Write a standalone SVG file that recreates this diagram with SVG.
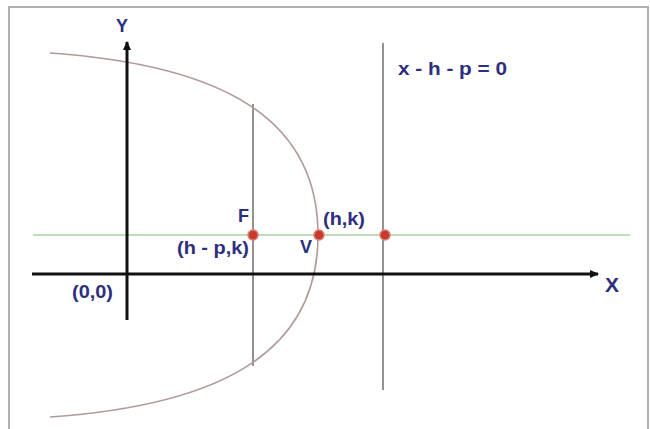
<svg xmlns="http://www.w3.org/2000/svg" width="650" height="429" viewBox="0 0 650 429">
<style>
.lbl{font-family:"Liberation Sans",Arial,sans-serif;font-weight:bold;font-size:18px;fill:#2e2e7e}
.axis{stroke:#111;stroke-width:3;fill:none}
.thin{stroke:#777;stroke-width:1.6;fill:none}
.pt{fill:#c83a30;stroke:#e07a70;stroke-width:1.5}
</style>
<defs>
<marker id="arr" markerWidth="10" markerHeight="8" refX="8" refY="4" orient="auto" markerUnits="userSpaceOnUse">
<path d="M0,0 L9,4 L0,8 Z" fill="#111"/>
</marker>
</defs>
<rect x="0" y="0" width="650" height="429" fill="#fff"/>
<rect x="9" y="7" width="639" height="440" fill="none" stroke="#b0b0b0" stroke-width="2"/>
<g id="connectors">
<line x1="33" y1="235" x2="630" y2="235" stroke="#a9d2a2" stroke-width="1.6"/>
<line class="thin" x1="253" y1="104" x2="253" y2="366"/>
<line class="thin" x1="383" y1="43" x2="383" y2="390" stroke="#666"/>
<path d="M50,53 C222,65 318,118 318,235 C318,352 222,405 50,417" fill="none" stroke="#b09a9a" stroke-width="1.6"/>
<line class="axis" x1="32" y1="274" x2="598" y2="274" marker-end="url(#arr)"/>
<line class="axis" x1="127" y1="320" x2="127" y2="42" marker-end="url(#arr)"/>
</g>
<g id="focus">
<circle class="pt" cx="253" cy="235" r="5"/>
<text class="lbl" x="238" y="222">F</text>
<text class="lbl" x="177" y="254" textLength="72" lengthAdjust="spacingAndGlyphs">(h - p,k)</text>
</g>
<g id="vertex">
<circle class="pt" cx="319" cy="235" r="5"/>
<text class="lbl" x="300" y="253">V</text>
<text class="lbl" x="323" y="225" textLength="42" lengthAdjust="spacingAndGlyphs">(h,k)</text>
</g>
<g id="directrix-point">
<circle class="pt" cx="385" cy="235" r="5"/>
</g>
<g id="directrix-label">
<text class="lbl" x="398" y="75" textLength="109" lengthAdjust="spacingAndGlyphs">x - h - p = 0</text>
</g>
<g id="origin">
<text class="lbl" x="72" y="298" textLength="41" lengthAdjust="spacingAndGlyphs">(0,0)</text>
</g>
<g id="axis-labels">
<text class="lbl" x="116" y="32" font-size="19">Y</text>
<text class="lbl" x="605" y="292" style="font-size:21px">X</text>
</g>
</svg>
